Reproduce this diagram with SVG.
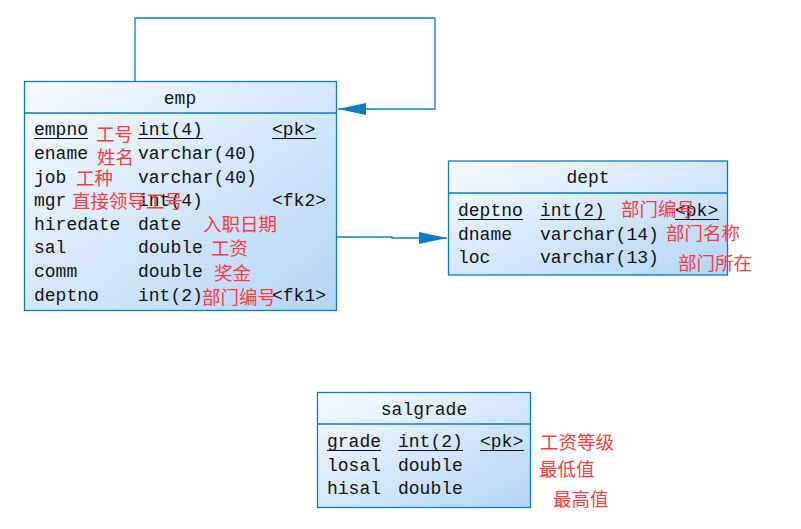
<svg xmlns="http://www.w3.org/2000/svg" width="801" height="529" viewBox="0 0 801 529">
<defs>
<linearGradient id="g" x1="0" y1="0" x2="1" y2="1">
<stop offset="0" stop-color="#f7fbff"/>
<stop offset="1" stop-color="#b3d5f7"/>
</linearGradient>
<marker id="arr" markerUnits="userSpaceOnUse" markerWidth="30" markerHeight="14" refX="28" refY="7" orient="auto">
<path d="M0,1 L28,7 L0,13 Z" fill="#0a7dc2"/>
</marker>
<style>
.box{fill:url(#g);stroke:#0a7dc2;stroke-width:1.3}
.sep{stroke:#0a7dc2;stroke-width:1.3}
.t{font-family:"Liberation Mono","DejaVu Sans Mono",monospace;font-size:18px;fill:#111}
.tc{text-anchor:middle}
.u{stroke:#111;stroke-width:1.2}
.r{font-family:"Noto Sans CJK SC","Noto Sans",sans-serif;font-size:18.5px;fill:#ff3b3b}
.c{fill:none;stroke:#0a7dc2;stroke-width:1.3}
</style>
</defs>
<rect width="801" height="529" fill="#fff"/>

<g id="connectors">
<polyline class="c" points="135,81 135,18 435,18 435,109 338,109" marker-end="url(#arr)"/>
<polyline class="c" points="337,237 392,237 392,238 447,238" marker-end="url(#arr)"/>
</g>

<g id="emp">
<rect class="box" x="24.5" y="81.5" width="312" height="229"/>
<line class="sep" x1="24.5" y1="113" x2="336.5" y2="113"/>
<text class="t tc" x="180" y="104">emp</text>
<text class="t" x="34" y="135">empno</text>
<text class="t" x="138" y="135">int(4)</text>
<text class="t" x="272" y="135">&lt;pk&gt;</text>
<line class="u" x1="34" y1="138.5" x2="88" y2="138.5"/>
<line class="u" x1="138" y1="138.5" x2="203" y2="138.5"/>
<line class="u" x1="272" y1="138.5" x2="316" y2="138.5"/>
<text class="t" x="34" y="159">ename</text>
<text class="t" x="138" y="159">varchar(40)</text>
<text class="t" x="34" y="182.5">job</text>
<text class="t" x="138" y="182.5">varchar(40)</text>
<text class="t" x="34" y="206">mgr</text>
<text class="t" x="138" y="206">int(4)</text>
<text class="t" x="272" y="206">&lt;fk2&gt;</text>
<text class="t" x="34" y="230">hiredate</text>
<text class="t" x="138" y="230">date</text>
<text class="t" x="34" y="253">sal</text>
<text class="t" x="138" y="253">double</text>
<text class="t" x="34" y="277">comm</text>
<text class="t" x="138" y="277">double</text>
<text class="t" x="34" y="300.5">deptno</text>
<text class="t" x="138" y="300.5">int(2)</text>
<text class="t" x="272" y="300.5">&lt;fk1&gt;</text>
<text class="r" x="96" y="141">工号</text>
<text class="r" x="97" y="164">姓名</text>
<text class="r" x="76" y="185">工种</text>
<text class="r" x="72" y="208">直接领导工号</text>
<text class="r" x="203" y="231">入职日期</text>
<text class="r" x="211" y="255">工资</text>
<text class="r" x="214" y="280">奖金</text>
<text class="r" x="202" y="304">部门编号</text>
</g>

<g id="dept">
<rect class="box" x="448.5" y="161" width="279" height="114"/>
<line class="sep" x1="448.5" y1="193" x2="727.5" y2="193"/>
<text class="t tc" x="588" y="183">dept</text>
<text class="t" x="458" y="216">deptno</text>
<text class="t" x="540" y="216">int(2)</text>
<text class="t" x="675" y="216">&lt;pk&gt;</text>
<line class="u" x1="458" y1="219.5" x2="523" y2="219.5"/>
<line class="u" x1="540" y1="219.5" x2="605" y2="219.5"/>
<line class="u" x1="675" y1="219.5" x2="719" y2="219.5"/>
<text class="t" x="458" y="239.5">dname</text>
<text class="t" x="540" y="239.5">varchar(14)</text>
<text class="t" x="458" y="263">loc</text>
<text class="t" x="540" y="263">varchar(13)</text>
<text class="r" x="621" y="216">部门编号</text>
<text class="r" x="666" y="240">部门名称</text>
<text class="r" x="678" y="270">部门所在</text>
</g>

<g id="salgrade">
<rect class="box" x="317.5" y="392.5" width="213" height="115"/>
<line class="sep" x1="317.5" y1="424" x2="530.5" y2="424"/>
<text class="t tc" x="424" y="415">salgrade</text>
<text class="t" x="327" y="447">grade</text>
<text class="t" x="398" y="447">int(2)</text>
<text class="t" x="480" y="447">&lt;pk&gt;</text>
<line class="u" x1="327" y1="450.5" x2="381" y2="450.5"/>
<line class="u" x1="398" y1="450.5" x2="463" y2="450.5"/>
<line class="u" x1="480" y1="450.5" x2="524" y2="450.5"/>
<text class="t" x="327" y="470.5">losal</text>
<text class="t" x="398" y="470.5">double</text>
<text class="t" x="327" y="494">hisal</text>
<text class="t" x="398" y="494">double</text>
<text class="r" x="540" y="449">工资等级</text>
<text class="r" x="539" y="476">最低值</text>
<text class="r" x="553" y="506">最高值</text>
</g>
</svg>
